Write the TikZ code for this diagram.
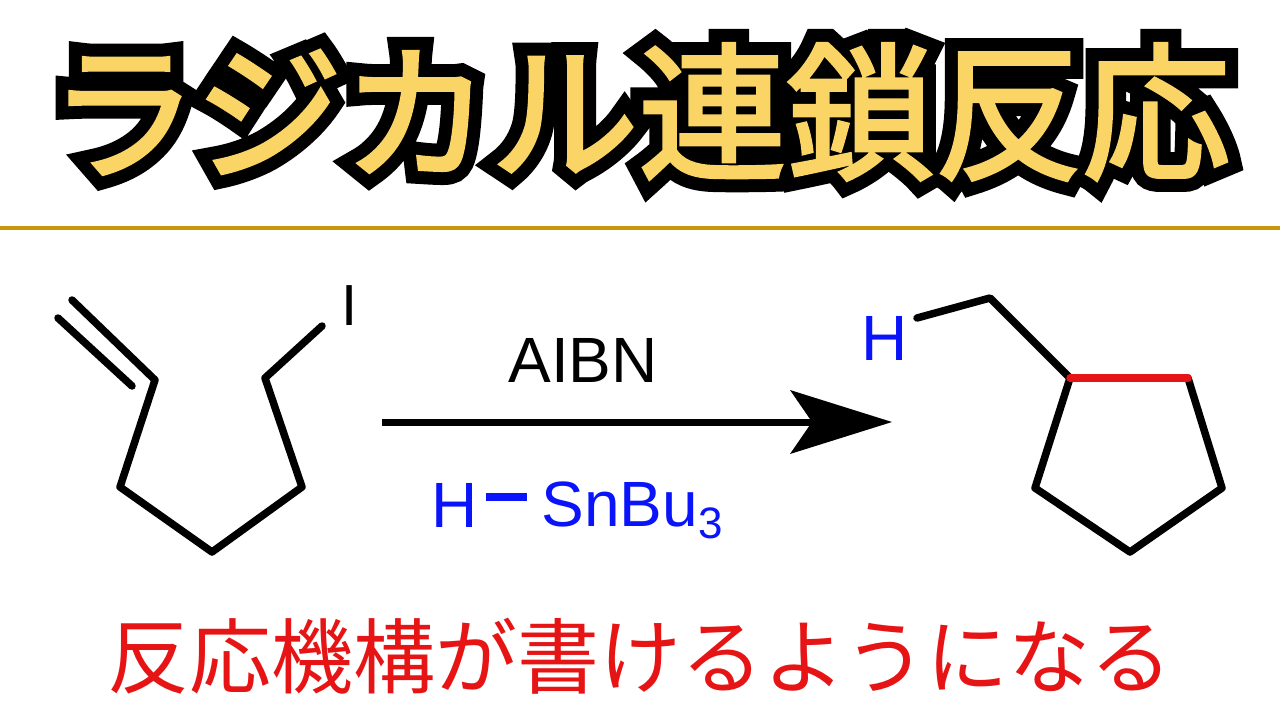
\documentclass[tikz,border=0pt]{standalone}
\usepackage{fontspec}
\setmainfont{Liberation Sans}
\newfontfamily\cjk{Noto Sans CJK JP}
\newfontfamily\cjkb{Noto Sans CJK JP}[FakeBold=2.5]
\newfontfamily\cjko{Noto Sans CJK JP}[FakeBold=20]
\definecolor{ttl}{HTML}{FAD464}
\definecolor{gold}{HTML}{C8960A}
\definecolor{bl}{HTML}{0A14FA}
\definecolor{rd}{HTML}{E61414}
\begin{document}
\begin{tikzpicture}[x=1pt,y=-1pt,bond/.style={line width=7.5pt,line cap=round,line join=round}]
\useasboundingbox (0,0) rectangle (1280,720);
\node (titleo) at (640,112) {\cjko\fontsize{148}{148}\selectfont ラジカル連鎖反応};
\node[text=ttl] (title) at (640,112) {\cjkb\fontsize{148}{148}\selectfont ラジカル連鎖反応};
\draw[gold,line width=4pt] (0,228) -- (1280,228);
% left molecule
\coordinate (a0) at (58,318); \coordinate (a0b) at (72,300);
\coordinate (a1) at (155,380); \coordinate (a1b) at (132,386);
\coordinate (a2) at (120,487); \coordinate (a3) at (212,552);
\coordinate (a4) at (302,487); \coordinate (a5) at (265,378);
\coordinate (a6) at (322,326);
\draw[bond] (a0b) -- (a1) -- (a2) -- (a3) -- (a4) -- (a5) -- (a6);
\draw[bond] (a0) -- (a1b);
\node (I) at (350,306) {\fontsize{58}{58}\selectfont I};
% arrow
\coordinate (s) at (382,422); \coordinate (e) at (892,422);
\draw[line width=7pt] (s) -- (820,422);
\fill (e) -- (790,390) -- (812,422) -- (790,454) -- cycle;
\node (aibn) at (583,360) {\fontsize{64}{64}\selectfont AIBN};
\node[text=bl] (Hs) at (455,505) {\fontsize{64}{64}\selectfont H};
\node[text=bl,anchor=west] (Sn) at (538,510) {\fontsize{64}{64}\selectfont SnBu\raisebox{-12pt}{\fontsize{44}{44}\selectfont 3}};
\draw[bl,line width=8pt] (486,497) -- (527,497);
% right molecule
\node[text=bl] (H) at (885,338) {\fontsize{64}{64}\selectfont H};
\coordinate (b0) at (917,318); \coordinate (b1) at (990,298);
\coordinate (p1) at (1070,378); \coordinate (p2) at (1188,378);
\coordinate (p3) at (1222,488); \coordinate (p4) at (1130,552);
\coordinate (p5) at (1035,488);
\draw[bond] (b0) -- (b1) -- (p1);
\draw[bond] (p2) -- (p3) -- (p4) -- (p5) -- (p1);
\draw[bond,rd] (p1) -- (p2);
\node[text=rd] (bot) at (640,656) {\cjk\fontsize{82}{82}\selectfont 反応機構が書けるようになる};
\end{tikzpicture}
\end{document}
